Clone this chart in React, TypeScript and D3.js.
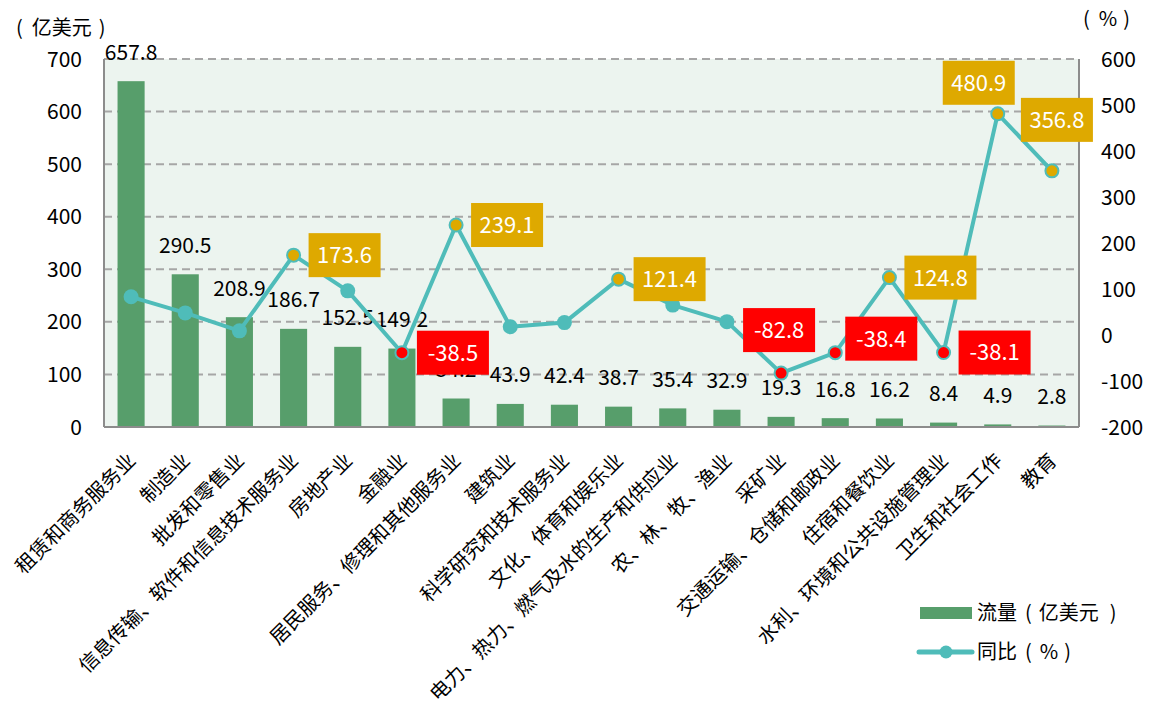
import React from "react";
import * as d3 from "d3";

const categories = [
  "租赁和商务服务业", "制造业", "批发和零售业", "信息传输、软件和信息技术服务业", "房地产业", "金融业",
  "居民服务、修理和其他服务业", "建筑业", "科学研究和技术服务业", "文化、体育和娱乐业",
  "电力、热力、燃气及水的生产和供应业", "农、林、牧、渔业", "采矿业", "交通运输、仓储和邮政业",
  "住宿和餐饮业", "水利、环境和公共设施管理业", "卫生和社会工作", "教育",
];
const flow = [657.8, 290.5, 208.9, 186.7, 152.5, 149.2, 54.2, 43.9, 42.4, 38.7, 35.4, 32.9, 19.3, 16.8, 16.2, 8.4, 4.9, 2.8];
const yoy = [83, 48, 9, 173.6, 96, -38.5, 239.1, 18, 27, 121.4, 65, 29, -82.8, -38.4, 124.8, -38.1, 480.9, 356.8];
const yoyLabeled = [false, false, false, true, false, true, true, false, false, true, false, false, true, true, true, true, true, true];
const leftTicks = [0, 100, 200, 300, 400, 500, 600, 700];
const rightTicks = [-200, -100, 0, 100, 200, 300, 400, 500, 600];

// label box placement (center offset from point)
const labelOffsets: [number, number][] = categories.map((_, i) => {
  if (i === 12) return [-2, -43];
  if (i === 13) return [46, -14];
  if (i === 16) return [-19, -31];
  if (i === 17) return [5, -51];
  return [51, 0];
});

const GREEN = "#579e6b";
const TEAL = "#4fbcb9";
const GOLD = "#dea900";
const RED = "#ff0000";
const FONT = "'Noto Sans CJK SC', 'Noto Sans', sans-serif";

export default function App() {
  const W = 1153, H = 715;
  const left = 104, right = 1079, top = 59, bottom = 427;
  const x = d3.scaleBand<string>().domain(categories).range([left, right]).paddingInner(0.5).paddingOuter(0.25);
  const yL = d3.scaleLinear().domain([0, 700]).range([bottom, top]);
  const yR = d3.scaleLinear().domain([-200, 600]).range([bottom, top]);
  const cx = (i: number) => (x(categories[i]) as number) + x.bandwidth() / 2;
  const line = d3.line<number>().x((_, i) => cx(i)).y((d) => yR(d));

  return (
    <svg width={W} height={H} style={{ position: "absolute", left: 0, top: 0, background: "#fff" }} fontFamily={FONT}>
      <rect x={left} y={top} width={right - left} height={bottom - top} fill="#ecf4ef" />
      {leftTicks.filter((t) => t > 0).map((t) => (
        <line key={t} x1={left} x2={right} y1={yL(t)} y2={yL(t)} stroke="#a6a6a6" strokeWidth={2} strokeDasharray="8,5" />
      ))}
      {/* bars */}
      {flow.map((v, i) => (
        <rect key={i} x={x(categories[i])} y={yL(v)} width={x.bandwidth()} height={bottom - yL(v)} fill={GREEN} />
      ))}
      {/* axes lines */}
      <line x1={left} x2={left} y1={top} y2={bottom} stroke="#8c8c8c" strokeWidth={2} />
      <line x1={right} x2={right} y1={top} y2={bottom} stroke="#8c8c8c" strokeWidth={2} />
      <line x1={left} x2={right} y1={bottom} y2={bottom} stroke="#8c8c8c" strokeWidth={2} />
      {/* left ticks */}
      {leftTicks.map((t) => (
        <text key={t} x={82} y={yL(t)} dy="0.36em" textAnchor="end" fontSize={21} fill="#000">{t}</text>
      ))}
      {rightTicks.map((t) => (
        <text key={t} x={1101} y={yR(t)} dy="0.36em" textAnchor="start" fontSize={21} fill="#000">{t}</text>
      ))}
      <text x={16} y={28} dy="0.36em" fontSize={20} fill="#000">(<tspan dx={9}>亿美元</tspan><tspan dx={7}>)</tspan></text>
      <text x={1083} y={19} dy="0.36em" fontSize={20} fill="#000">(<tspan dx={9}>%</tspan><tspan dx={6}>)</tspan></text>
      {/* bar labels */}
      {flow.map((v, i) => (
        <text key={i} x={cx(i)} y={yL(v) - 29} dy="0.36em" textAnchor="middle" fontSize={21} fill="#000">{v.toFixed(1)}</text>
      ))}
      {/* line */}
      <path d={line(yoy) || ""} fill="none" stroke={TEAL} strokeWidth={4} strokeLinejoin="round" />
      {yoy.map((v, i) => (
        <circle key={i} cx={cx(i)} cy={yR(v)} r={yoyLabeled[i] ? 6.5 : 7.5}
          fill={yoyLabeled[i] ? (v >= 0 ? GOLD : RED) : TEAL} stroke={TEAL} strokeWidth={yoyLabeled[i] ? 2 : 0} />
      ))}
      {/* yoy label boxes */}
      {yoy.map((v, i) => {
        if (!yoyLabeled[i]) return null;
        const bx = cx(i) + labelOffsets[i][0];
        const by = yR(v) + labelOffsets[i][1];
        return (
          <g key={i}>
            <rect x={bx - 36} y={by - 22} width={72} height={44} fill={v >= 0 ? GOLD : RED} />
            <text x={bx} y={by} dy="0.36em" textAnchor="middle" fontSize={22} fill="#fff">{v.toFixed(1)}</text>
          </g>
        );
      })}
      {/* x labels */}
      {categories.map((c, i) => (
        <text key={c} transform={`translate(${cx(i) - 4},${bottom + 25}) rotate(-45)`} textAnchor="end" dy="0.7em" fontSize={20} fill="#000">{c}</text>
      ))}
      {/* legend */}
      <rect x={920} y={607} width={52} height={12} fill={GREEN} />
      <text x={977} y={613} dy="0.36em" fontSize={20} fill="#000">流量<tspan dx={8}>(</tspan><tspan dx={7}>亿美元</tspan><tspan dx={11}>)</tspan></text>
      <line x1={919} x2={972} y1={652} y2={652} stroke={TEAL} strokeWidth={5} strokeLinecap="round" />
      <circle cx={946} cy={652} r={6.5} fill={TEAL} />
      <text x={977} y={652} dy="0.36em" fontSize={20} fill="#000">同比<tspan dx={8}>(</tspan><tspan dx={8}>%</tspan><tspan dx={6}>)</tspan></text>
    </svg>
  );
}
